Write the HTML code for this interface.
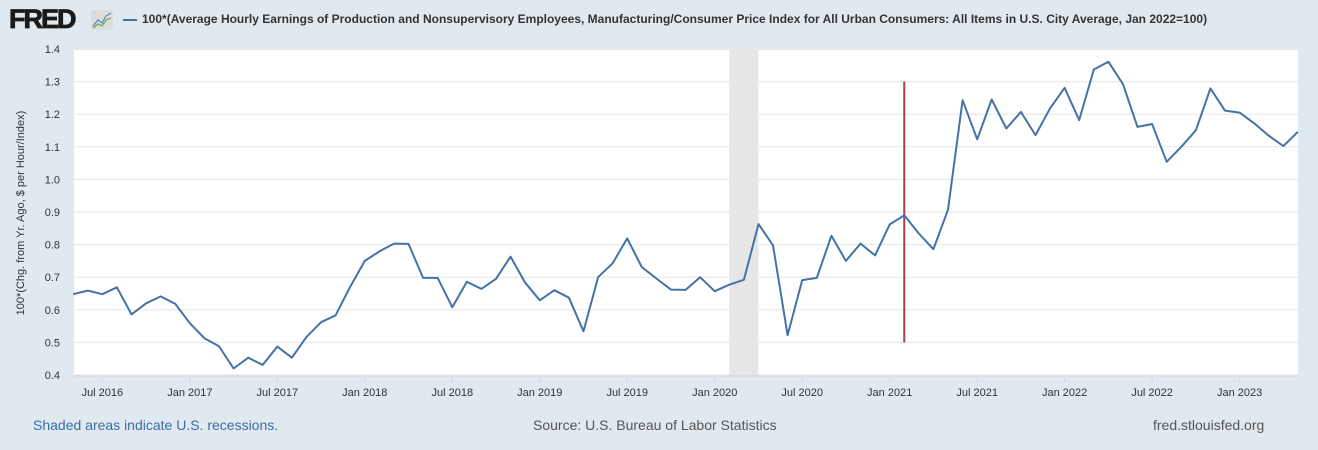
<!DOCTYPE html>
<html><head><meta charset="utf-8"><style>
body{margin:0;width:1318px;height:450px;background:#e1e9f0;font-family:"Liberation Sans",Arial,sans-serif;overflow:hidden;position:relative}
.t{position:absolute;white-space:nowrap}
</style></head><body>
<div class="t" style="left:9px;top:4px;font-size:27px;font-weight:900;color:#1a1a1a;letter-spacing:-2px;-webkit-text-stroke:0.8px #1a1a1a">FRED</div>
<div class="t" style="left:91px;top:10px;width:22px;height:20px;background:#dcdcdc;border-radius:3px"><svg width="22" height="20"><polyline points="2,16 7,10 11,13 15,6 20,3" fill="none" stroke="#5a8ac0" stroke-width="1.2"/><polyline points="2,18 7,14 11,16 15,10 20,8" fill="none" stroke="#6aa84f" stroke-width="1.2"/></svg></div>
<div class="t" style="left:123px;top:12px;font-size:12px;font-weight:bold;color:#333"><span style="display:inline-block;width:14px;height:2px;background:#4572a7;vertical-align:middle;margin-right:5px"></span>100*(Average Hourly Earnings of Production and Nonsupervisory Employees, Manufacturing/Consumer Price Index for All Urban Consumers: All Items in U.S. City Average, Jan 2022=100)</div>
<svg width="1318" height="450" style="position:absolute;left:0;top:0">
<rect x="74" y="50" width="1224" height="326" fill="#fff"/>
<g id="grid"></g><g id="xaxis"></g><g id="yaxis"></g><g id="series"></g>
<text transform="translate(24,213) rotate(-90)" text-anchor="middle" font-size="11" fill="#333">100*(Chg. from Yr. Ago, $ per Hour/Index)</text>
</svg>
<div class="t" style="left:33px;top:417px;font-size:14px;color:#3a6ea5">Shaded areas indicate U.S. recessions.</div>
<div class="t" style="left:533px;top:417px;font-size:14px;color:#555">Source: U.S. Bureau of Labor Statistics</div>
<div class="t" style="left:1153px;top:417px;font-size:14px;color:#555">fred.stlouisfed.org</div>
<script>
const startYear=2016,startMonth=4; // May 2016 (0-based month)
const values=[.648,.659,.648,.669,.586,.620,.641,.618,
.559,.513,.488,.420,.453,.431,.487,.453,.517,.562,.583,.671,
.750,.779,.803,.802,.698,.698,.608,.686,.664,.695,.763,.683,
.629,.660,.637,.534,.700,.743,.819,.731,.696,.662,.661,.700,
.657,.677,.692,.863,.798,.522,.691,.698,.827,.750,.803,.767,
.862,.890,.834,.786,.907,1.243,1.123,1.245,1.156,1.207,1.136,1.218,
1.281,1.182,1.337,1.361,1.292,1.161,1.170,1.054,1.100,1.151,1.279,1.211,
1.205,1.172,1.134,1.102,1.146];
const yTicks=[0.4,0.5,0.6,0.7,0.8,0.9,1.0,1.1,1.2,1.3,1.4];
const xTickLabels=["Jul 2016","Jan 2017","Jul 2017","Jan 2018","Jul 2018","Jan 2019","Jul 2019","Jan 2020","Jul 2020","Jan 2021","Jul 2021","Jan 2022","Jul 2022","Jan 2023"];
const recession=[[2020,1],[2020,3]];
const marker=[2021,1];
const markerRange=[0.5,1.3];
const NS="http://www.w3.org/2000/svg";
const X0=73.2,MPX=14.58,PL=74,PR=1298;
function xm(y,m){return X0+((y-startYear)*12+m-startMonth)*MPX;}
function yv(v){return 375-(v-0.4)*326;}
function mk(p,tag,a){const e=document.createElementNS(NS,tag);for(const k in a)e.setAttribute(k,a[k]);p.appendChild(e);return e;}
const g=document.getElementById('grid'),xa=document.getElementById('xaxis'),ya=document.getElementById('yaxis'),s=document.getElementById('series');
const r=mk(g,'rect',{x:xm(recession[0][0],recession[0][1]),y:50,width:xm(recession[1][0],recession[1][1])-xm(recession[0][0],recession[0][1]),height:326,fill:'#e6e6e6'});


yTicks.forEach(v=>{
 const l=mk(g,'line',{x1:PL,x2:PR,y1:yv(v),y2:yv(v),stroke:'#e6e6e6','stroke-width':1});
 
 
 const t=mk(ya,'text',{x:60,y:yv(v)+4,'text-anchor':'end','font-size':11,fill:'#333'});
 t.textContent=v.toFixed(1);
 
 
});
mk(xa,'line',{x1:PL,x2:PR,y1:376,y2:376,stroke:'#ccd6eb','stroke-width':1});
xTickLabels.forEach(lbl=>{
 const mo=lbl.startsWith('Jul')?6:0,yr=+lbl.slice(4);
 const x=xm(yr,mo);
 mk(xa,'line',{x1:x,x2:x,y1:376,y2:382,stroke:'#ccd6eb'});
 const t=mk(xa,'text',{x:x,y:396,'text-anchor':'middle','font-size':11,fill:'#333'});
 t.textContent=lbl;
 
 
});
const mx=xm(marker[0],marker[1]);
const ml=mk(s,'line',{x1:mx,x2:mx,y1:yv(markerRange[1]),y2:yv(markerRange[0]),stroke:'#b0413e','stroke-width':2});


const pts=values.map((v,i)=>xm(startYear,startMonth+i).toFixed(1)+','+yv(v).toFixed(1)).join(' ');
const pl=mk(s,'polyline',{points:pts,fill:'none',stroke:'#4572a7','stroke-width':2,'stroke-linejoin':'round'});


</script>
</body></html>
